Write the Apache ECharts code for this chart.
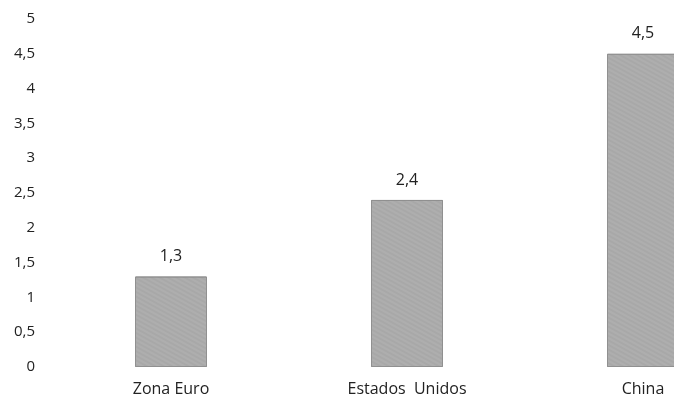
<!DOCTYPE html>
<html><head><meta charset="utf-8">
<script src="https://cdn.jsdelivr.net/npm/echarts@6/dist/echarts.min.js"></script>
<style>html,body{margin:0;padding:0;background:#fff}#c{width:674px;height:401px}</style>
</head><body><div id="c"></div>
<script>
const categories = ["Zona Euro", "Estados  Unidos", "China"];
const values = [1.3, 2.4, 4.5];
const yTicks = {min: 0, max: 5, interval: 0.5};

const fmt = v => String(v).replace('.', ',');
const chart = echarts.init(document.getElementById('c'), null, {renderer: 'canvas'});
chart.setOption({
  animation: false,
  backgroundColor: '#ffffff',
  grid: {left: 53, width: 708, top: 19, bottom: 34, containLabel: false, outerBoundsMode: 'none'},
  xAxis: {
    type: 'category', data: categories,
    axisLine: {show: false}, axisTick: {show: false},
    axisLabel: {color: '#222', fontFamily: 'Open Sans', fontSize: 16, margin: 14}
  },
  yAxis: {
    type: 'value', min: yTicks.min, max: yTicks.max, interval: yTicks.interval,
    splitLine: {show: false}, axisLine: {show: false}, axisTick: {show: false},
    axisLabel: {color: '#222', fontFamily: 'Open Sans', fontSize: 15, margin: 18, formatter: fmt}
  },
  series: [{
    type: 'bar', data: values, barWidth: 72,
    itemStyle: {color: '#a8a8a8', borderColor: '#909090', borderWidth: 1,
      decal: {symbol: 'rect', symbolSize: 0.5, color: 'rgba(255,255,255,0.3)', dashArrayX: [1, 0], dashArrayY: [2, 2], rotation: 0.5}},
    label: {show: true, position: 'top', distance: 12, color: '#222', fontFamily: 'Open Sans', fontSize: 16, formatter: p => fmt(p.value)}
  }]
});
</script></body></html>
